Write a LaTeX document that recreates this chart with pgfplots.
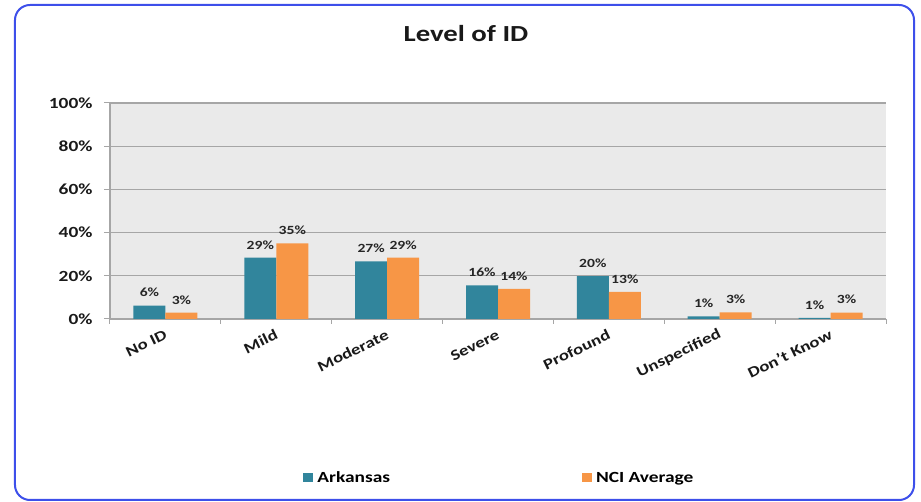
\documentclass[border=0pt]{standalone}
\usepackage{fontspec}
\setmainfont{Carlito}[FakeStretch=1.25]
\usepackage{pgfplots}
\usepackage{pgfplotstable}
\pgfplotsset{compat=1.18}
\definecolor{ark}{HTML}{31859C}
\definecolor{nci}{HTML}{F79646}
\definecolor{bg}{HTML}{EAEAEA}
\definecolor{grd}{HTML}{A6A6A6}
\definecolor{brd}{HTML}{3D4FEA}
\newcommand\fs[1]{\fontsize{#1bp}{#1bp}\selectfont\bfseries}

\pgfplotstableread{
x y lab
0 6.2 6
1 28.4 29
2 26.7 27
3 15.6 16
4 19.9 20
5 1.2 1
6 0.5 1
}\arkdata

\pgfplotstableread{
x y lab
0 2.9 3
1 35.0 35
2 28.4 29
3 14.0 14
4 12.5 13
5 3.1 3
6 3.0 3
}\ncidata

\begin{document}
\begin{tikzpicture}[x=1bp,y=1bp]
\useasboundingbox (-110,-183) rectangle (811,319);
\begin{axis}[
  at={(0,0)}, anchor=south west,
  scale only axis, width=776bp, height=216bp,
  ybar=0pt, bar width=32bp,
  xmin=-0.5, xmax=6.5, ymin=0, ymax=100,
  axis background/.style={fill=bg},
  axis lines=left,
  axis line style={grd, line width=1.2bp, -},
  ytick={0,20,40,60,80,100},
  yticklabels={0\%,20\%,40\%,60\%,80\%,100\%},
  ymajorgrids, grid style={grd, line width=1.2bp},
  xtick={0,1,2,3,4,5,6},
  xticklabels={No ID,Mild,Moderate,Severe,Profound,Unspecified,Don't Know},
  minor xtick={-0.5,0.5,1.5,2.5,3.5,4.5,5.5,6.5},
  major x tick style={draw=none},
  tick align=outside, major tick length=6bp, minor tick length=5bp,
  tick style={grd, line width=1bp},
  yticklabel style={font=\fs{15.5}, text=black!90, xshift=-8bp},
  xticklabel style={font=\fs{15}, text=black!90, rotate=26, anchor=east, yshift=-8bp},
  /pgf/number format/assume math mode=true,
  nodes near coords={\pgfmathprintnumber{\pgfplotspointmeta}\%},
  point meta=explicit,
  every node near coord/.append style={font=\fs{12.5}, text=black!85, yshift=5bp},
  legend columns=2,
  legend style={draw=none, fill=none, at={(0.249,-0.736)}, anchor=west, inner sep=0pt,
    font=\fs{15.5}, nodes={inner sep=2bp},
    /tikz/every even column/.append style={column sep=190bp}},
  legend image code/.code={\fill[#1] (0bp,-4.5bp) rectangle (10bp,4.5bp); \path (12bp,0bp);},
]
\addplot[fill=ark, draw=none] table[x=x, y=y, meta=lab] {\arkdata};
\addlegendentry{Arkansas}
\addplot[fill=nci, draw=none] table[x=x, y=y, meta=lab] {\ncidata};
\addlegendentry{NCI Average}
\end{axis}
\node[font=\fs{23}, text=black!90] at (356,285) {Level of ID};
\draw[brd, line width=2bp, rounded corners=15bp] (-95,-181) rectangle (804,314);
\end{tikzpicture}
\end{document}
